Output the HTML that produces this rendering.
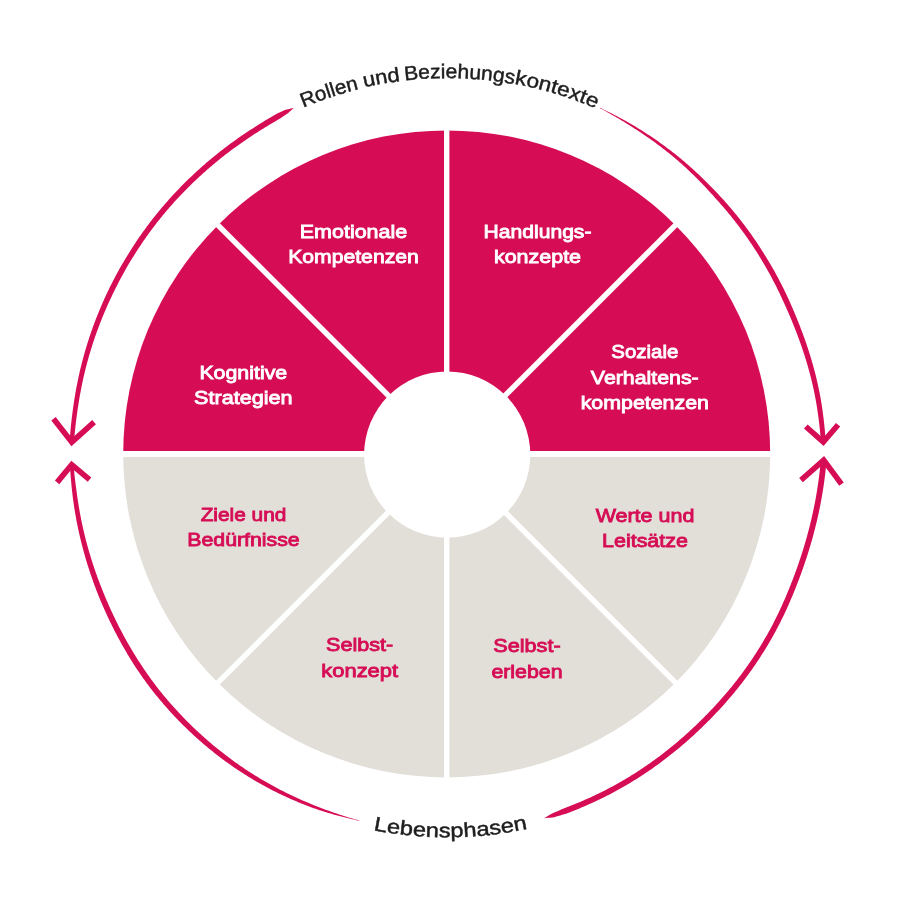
<!DOCTYPE html>
<html><head><meta charset="utf-8"><style>
html,body{margin:0;padding:0;background:#fff;width:900px;height:900px;overflow:hidden}
svg{display:block;will-change:transform}
text{font-family:"Liberation Sans",sans-serif}
.lab{font-weight:bold}
</style></head><body>
<svg width="900" height="900" viewBox="0 0 900 900">
<rect width="900" height="900" fill="#fff"/>
<defs><path id="tp0" d="M94.62,325.54 A375,375 0 0 1 799.38,325.54"/><path id="tp1" d="M94.05,325.34 A375.6,375.6 0 0 1 799.95,325.34"/><path id="tp2" d="M93.96,325.30 A375.7,375.7 0 0 1 800.04,325.30"/><path id="tp3" d="M93.68,325.20 A376.0,376.0 0 0 1 800.32,325.20"/><path id="bp" d="M114.88,645.55 A383.5,383.5 0 0 0 779.12,645.55"/></defs>
<path d="M123.19999999999999,453.9 A323.5,323.5 0 0 1 770.2,453.9 Z" fill="#D60D55"/>
<path d="M123.19999999999999,453.9 A323.5,323.5 0 0 0 770.2,453.9 Z" fill="#E2DFD9"/>
<line x1="775.20" y1="453.90" x2="118.20" y2="453.90" stroke="#fff" stroke-width="6.0"/>
<line x1="678.98" y1="221.62" x2="214.42" y2="686.18" stroke="#fff" stroke-width="5.5"/>
<line x1="446.70" y1="125.40" x2="446.70" y2="782.40" stroke="#fff" stroke-width="5.4"/>
<line x1="214.42" y1="221.62" x2="678.98" y2="686.18" stroke="#fff" stroke-width="5.5"/>
<circle cx="447.2" cy="454.6" r="83.1" fill="#fff"/>

<g>
<text x="353.5" y="237.5" fill="#fff" stroke="#fff" stroke-width="0.85" text-anchor="middle" textLength="107.40" lengthAdjust="spacingAndGlyphs" style="font-size:18.6px;font-weight:normal">Emotionale</text>
<text x="353.5" y="263.0" fill="#fff" stroke="#fff" stroke-width="0.85" text-anchor="middle" textLength="130.60" lengthAdjust="spacingAndGlyphs" style="font-size:18.6px;font-weight:normal">Kompetenzen</text>
<text x="537.5" y="237.5" fill="#fff" stroke="#fff" stroke-width="0.85" text-anchor="middle" textLength="107.91" lengthAdjust="spacingAndGlyphs" style="font-size:18.6px;font-weight:normal">Handlungs-</text>
<text x="537.5" y="263.0" fill="#fff" stroke="#fff" stroke-width="0.85" text-anchor="middle" textLength="87.09" lengthAdjust="spacingAndGlyphs" style="font-size:18.6px;font-weight:normal">konzepte</text>
<text x="243.3" y="379.2" fill="#fff" stroke="#fff" stroke-width="0.85" text-anchor="middle" textLength="87.80" lengthAdjust="spacingAndGlyphs" style="font-size:18.6px;font-weight:normal">Kognitive</text>
<text x="243.3" y="404.1" fill="#fff" stroke="#fff" stroke-width="0.85" text-anchor="middle" textLength="98.39" lengthAdjust="spacingAndGlyphs" style="font-size:18.6px;font-weight:normal">Strategien</text>
<text x="644.8" y="358.1" fill="#fff" stroke="#fff" stroke-width="0.85" text-anchor="middle" textLength="67.00" lengthAdjust="spacingAndGlyphs" style="font-size:18.6px;font-weight:normal">Soziale</text>
<text x="644.8" y="383.9" fill="#fff" stroke="#fff" stroke-width="0.85" text-anchor="middle" textLength="107.89" lengthAdjust="spacingAndGlyphs" style="font-size:18.6px;font-weight:normal">Verhaltens-</text>
<text x="644.8" y="408.8" fill="#fff" stroke="#fff" stroke-width="0.85" text-anchor="middle" textLength="128.30" lengthAdjust="spacingAndGlyphs" style="font-size:18.6px;font-weight:normal">kompetenzen</text>
<text x="243.5" y="520.5" fill="#D60D55" stroke="#D60D55" stroke-width="0.85" text-anchor="middle" textLength="85.70" lengthAdjust="spacingAndGlyphs" style="font-size:18.6px;font-weight:normal">Ziele und</text>
<text x="243.5" y="546.0" fill="#D60D55" stroke="#D60D55" stroke-width="0.85" text-anchor="middle" textLength="112.40" lengthAdjust="spacingAndGlyphs" style="font-size:18.6px;font-weight:normal">Bedürfnisse</text>
<text x="645.0" y="522.4" fill="#D60D55" stroke="#D60D55" stroke-width="0.85" text-anchor="middle" textLength="98.71" lengthAdjust="spacingAndGlyphs" style="font-size:18.6px;font-weight:normal">Werte und</text>
<text x="645.0" y="547.2" fill="#D60D55" stroke="#D60D55" stroke-width="0.85" text-anchor="middle" textLength="85.91" lengthAdjust="spacingAndGlyphs" style="font-size:18.6px;font-weight:normal">Leitsätze</text>
<text x="359.7" y="651.4" fill="#D60D55" stroke="#D60D55" stroke-width="0.85" text-anchor="middle" textLength="67.21" lengthAdjust="spacingAndGlyphs" style="font-size:18.6px;font-weight:normal">Selbst-</text>
<text x="359.7" y="677.3" fill="#D60D55" stroke="#D60D55" stroke-width="0.85" text-anchor="middle" textLength="76.81" lengthAdjust="spacingAndGlyphs" style="font-size:18.6px;font-weight:normal">konzept</text>
<text x="527.0" y="651.7" fill="#D60D55" stroke="#D60D55" stroke-width="0.85" text-anchor="middle" textLength="67.41" lengthAdjust="spacingAndGlyphs" style="font-size:18.6px;font-weight:normal">Selbst-</text>
<text x="527.0" y="677.7" fill="#D60D55" stroke="#D60D55" stroke-width="0.85" text-anchor="middle" textLength="71.20" lengthAdjust="spacingAndGlyphs" style="font-size:18.6px;font-weight:normal">erleben</text>
</g>
<path d="M69.60,442.23 L69.71,440.47 L69.83,438.70 L69.95,436.93 L70.09,435.17 L70.23,433.40 L70.38,431.64 L70.54,429.87 L70.71,428.11 L70.88,426.35 L71.06,424.59 L71.25,422.83 L71.44,421.07 L71.65,419.32 L71.85,417.56 L72.07,415.80 L72.29,414.05 L72.52,412.30 L72.75,410.54 L72.99,408.79 L73.23,407.04 L73.48,405.29 L73.74,403.54 L74.00,401.79 L74.27,400.05 L74.54,398.30 L74.82,396.56 L75.11,394.81 L75.40,393.07 L75.71,391.33 L76.02,389.59 L76.34,387.86 L76.67,386.12 L77.01,384.39 L77.35,382.65 L77.70,380.92 L78.06,379.19 L78.43,377.46 L78.81,375.74 L79.19,374.01 L79.58,372.29 L79.98,370.57 L80.39,368.85 L80.81,367.14 L81.23,365.42 L81.66,363.71 L82.10,362.00 L82.54,360.29 L83.00,358.58 L83.46,356.88 L83.93,355.18 L84.41,353.48 L84.89,351.78 L85.38,350.08 L85.88,348.39 L86.39,346.70 L86.91,345.01 L87.43,343.32 L87.96,341.64 L88.50,339.96 L89.05,338.28 L89.60,336.60 L90.16,334.92 L90.73,333.25 L91.30,331.58 L91.89,329.92 L92.48,328.25 L93.08,326.59 L93.68,324.93 L94.30,323.28 L94.92,321.63 L95.55,319.98 L96.18,318.33 L96.83,316.68 L97.48,315.04 L98.13,313.40 L98.80,311.77 L99.47,310.13 L100.15,308.50 L100.84,306.88 L101.53,305.25 L102.23,303.63 L102.94,302.02 L103.66,300.40 L104.38,298.79 L105.11,297.18 L105.85,295.58 L106.60,293.98 L107.36,292.38 L108.12,290.79 L108.89,289.20 L109.67,287.62 L110.45,286.03 L111.24,284.45 L112.04,282.88 L112.84,281.31 L113.65,279.74 L114.47,278.17 L115.30,276.61 L116.13,275.05 L116.97,273.50 L117.81,271.94 L118.66,270.40 L119.52,268.85 L120.39,267.31 L121.26,265.78 L122.14,264.24 L123.03,262.72 L123.92,261.19 L124.82,259.67 L125.73,258.15 L126.64,256.64 L127.56,255.13 L128.49,253.63 L129.42,252.13 L130.36,250.63 L131.31,249.14 L132.26,247.65 L133.22,246.16 L134.19,244.68 L135.17,243.21 L136.15,241.74 L137.13,240.27 L138.13,238.81 L139.13,237.35 L140.14,235.90 L141.15,234.45 L142.17,233.00 L143.20,231.56 L144.23,230.13 L145.28,228.70 L146.32,227.27 L147.38,225.85 L148.44,224.44 L149.51,223.03 L150.58,221.62 L151.66,220.22 L152.75,218.82 L153.84,217.43 L154.94,216.04 L156.05,214.66 L157.16,213.28 L158.28,211.91 L159.41,210.55 L160.54,209.18 L161.68,207.83 L162.82,206.48 L163.97,205.13 L165.13,203.79 L166.30,202.46 L167.47,201.13 L168.64,199.81 L169.83,198.49 L171.02,197.17 L172.21,195.87 L173.41,194.56 L174.62,193.27 L175.84,191.98 L177.05,190.69 L178.28,189.41 L179.51,188.13 L180.75,186.86 L181.99,185.60 L183.23,184.34 L184.49,183.08 L185.75,181.83 L187.01,180.59 L188.28,179.35 L189.56,178.12 L190.84,176.89 L192.12,175.67 L193.42,174.45 L194.71,173.24 L196.02,172.04 L197.32,170.84 L198.64,169.65 L199.96,168.46 L201.28,167.28 L202.61,166.10 L203.95,164.93 L205.29,163.76 L206.63,162.60 L207.98,161.45 L209.34,160.30 L210.70,159.16 L212.06,158.03 L213.44,156.89 L214.81,155.77 L216.19,154.65 L217.58,153.54 L218.97,152.43 L220.37,151.33 L221.77,150.24 L223.18,149.15 L224.59,148.07 L226.00,146.99 L227.43,145.92 L228.85,144.86 L230.28,143.80 L231.72,142.75 L233.16,141.70 L234.60,140.66 L236.05,139.63 L237.51,138.60 L238.97,137.58 L240.43,136.56 L241.90,135.55 L243.37,134.55 L244.85,133.55 L246.33,132.56 L247.82,131.57 L249.30,130.59 L250.80,129.61 L252.29,128.64 L253.79,127.67 L255.29,126.71 L256.80,125.75 L258.31,124.80 L259.83,123.85 L261.34,122.91 L262.87,121.97 L264.39,121.04 L265.92,120.12 L267.46,119.20 L268.99,118.28 L270.54,117.38 L272.08,116.47 L273.63,115.58 L275.19,114.69 L276.76,113.83 L278.38,113.07 L280.00,112.32 L281.63,111.58 L283.26,110.85 L284.90,110.12 L286.62,109.58 L288.39,109.17 L290.17,108.77 L291.95,108.37 L293.73,107.99 L293.73,107.99 L292.33,109.23 L290.94,110.47 L289.56,111.72 L288.19,112.97 L286.77,114.11 L285.27,115.07 L283.77,116.04 L282.28,117.01 L280.80,117.99 L279.32,118.98 L277.79,119.87 L276.26,120.75 L274.74,121.63 L273.22,122.52 L271.70,123.41 L270.18,124.31 L268.67,125.21 L267.16,126.13 L265.66,127.04 L264.16,127.96 L262.67,128.89 L261.18,129.82 L259.69,130.76 L258.20,131.70 L256.72,132.65 L255.25,133.61 L253.77,134.56 L252.30,135.53 L250.84,136.49 L249.38,137.47 L247.92,138.44 L246.46,139.42 L245.01,140.41 L243.57,141.40 L242.12,142.40 L240.69,143.41 L239.25,144.42 L237.82,145.44 L236.40,146.46 L234.98,147.49 L233.57,148.53 L232.16,149.57 L230.75,150.61 L229.35,151.67 L227.96,152.73 L226.57,153.79 L225.18,154.86 L223.80,155.94 L222.43,157.03 L221.06,158.11 L219.69,159.21 L218.33,160.31 L216.97,161.42 L215.62,162.53 L214.28,163.65 L212.93,164.77 L211.60,165.90 L210.27,167.04 L208.94,168.18 L207.62,169.32 L206.31,170.48 L205.00,171.63 L203.69,172.80 L202.39,173.97 L201.10,175.14 L199.81,176.32 L198.53,177.51 L197.25,178.70 L195.97,179.90 L194.71,181.10 L193.44,182.31 L192.19,183.52 L190.94,184.74 L189.69,185.96 L188.45,187.19 L187.22,188.43 L185.99,189.67 L184.76,190.91 L183.54,192.16 L182.33,193.42 L181.12,194.68 L179.92,195.95 L178.73,197.22 L177.54,198.50 L176.35,199.78 L175.18,201.06 L174.00,202.36 L172.84,203.65 L171.68,204.96 L170.52,206.27 L169.37,207.58 L168.23,208.90 L167.10,210.22 L165.97,211.55 L164.85,212.89 L163.73,214.23 L162.62,215.57 L161.52,216.92 L160.42,218.28 L159.33,219.64 L158.25,221.00 L157.17,222.37 L156.10,223.75 L155.03,225.13 L153.97,226.51 L152.92,227.90 L151.87,229.30 L150.84,230.70 L149.80,232.10 L148.78,233.51 L147.76,234.92 L146.74,236.34 L145.74,237.76 L144.74,239.19 L143.74,240.62 L142.76,242.05 L141.78,243.49 L140.80,244.94 L139.84,246.38 L138.88,247.84 L137.92,249.29 L136.97,250.76 L136.03,252.22 L135.10,253.69 L134.17,255.16 L133.25,256.64 L132.34,258.12 L131.43,259.61 L130.53,261.10 L129.64,262.59 L128.75,264.09 L127.87,265.59 L126.99,267.10 L126.13,268.60 L125.27,270.12 L124.41,271.63 L123.56,273.15 L122.72,274.68 L121.89,276.21 L121.06,277.74 L120.24,279.27 L119.43,280.81 L118.62,282.35 L117.82,283.90 L117.03,285.44 L116.24,287.00 L115.46,288.55 L114.69,290.11 L113.92,291.67 L113.16,293.24 L112.41,294.80 L111.66,296.38 L110.92,297.95 L110.19,299.53 L109.46,301.11 L108.73,302.69 L108.01,304.27 L107.30,305.86 L106.60,307.45 L105.90,309.05 L105.22,310.64 L104.53,312.25 L103.86,313.85 L103.19,315.46 L102.53,317.07 L101.88,318.68 L101.23,320.30 L100.59,321.91 L99.96,323.54 L99.34,325.16 L98.72,326.79 L98.11,328.42 L97.51,330.05 L96.91,331.69 L96.33,333.33 L95.75,334.97 L95.17,336.61 L94.61,338.26 L94.05,339.91 L93.50,341.56 L92.96,343.21 L92.42,344.87 L91.89,346.53 L91.37,348.19 L90.86,349.86 L90.35,351.52 L89.85,353.19 L89.36,354.86 L88.88,356.54 L88.40,358.21 L87.93,359.89 L87.47,361.57 L87.02,363.25 L86.58,364.94 L86.14,366.62 L85.71,368.31 L85.29,370.00 L84.87,371.70 L84.46,373.39 L84.07,375.09 L83.67,376.79 L83.29,378.49 L82.91,380.19 L82.55,381.89 L82.18,383.60 L81.83,385.31 L81.49,387.01 L81.15,388.73 L80.82,390.44 L80.50,392.15 L80.18,393.87 L79.88,395.58 L79.58,397.30 L79.29,399.02 L79.01,400.75 L78.73,402.47 L78.46,404.19 L78.19,405.92 L77.92,407.64 L77.66,409.37 L77.41,411.10 L77.17,412.82 L76.92,414.55 L76.69,416.28 L76.46,418.02 L76.24,419.75 L76.02,421.48 L75.81,423.22 L75.61,424.96 L75.41,426.69 L75.23,428.43 L75.04,430.17 L74.87,431.91 L74.70,433.66 L74.55,435.40 L74.40,437.14 L74.26,438.89 L74.12,440.63 L74.00,442.38 Z" fill="#D60D55"/>
<path d="M600.07,107.87 L601.68,108.62 L603.29,109.39 L604.89,110.16 L606.49,110.93 L608.09,111.72 L609.68,112.51 L611.27,113.30 L612.86,114.11 L614.44,114.92 L616.02,115.74 L617.59,116.56 L619.17,117.39 L620.73,118.23 L622.30,119.07 L623.86,119.92 L625.42,120.78 L626.97,121.64 L628.52,122.51 L630.07,123.38 L631.60,124.28 L633.13,125.19 L634.65,126.11 L636.17,127.03 L637.68,127.96 L639.19,128.89 L640.70,129.83 L642.20,130.78 L643.70,131.73 L645.19,132.69 L646.68,133.66 L648.17,134.63 L649.65,135.61 L651.12,136.59 L652.59,137.59 L654.06,138.59 L655.52,139.59 L656.98,140.60 L658.43,141.62 L659.88,142.65 L661.32,143.68 L662.76,144.72 L664.19,145.76 L665.62,146.82 L667.04,147.88 L668.45,148.94 L669.87,150.01 L671.27,151.09 L672.67,152.18 L674.07,153.27 L675.46,154.37 L676.84,155.48 L678.22,156.59 L679.59,157.71 L680.96,158.84 L682.32,159.97 L683.67,161.11 L685.02,162.26 L686.36,163.42 L687.70,164.58 L689.03,165.75 L690.35,166.92 L691.67,168.10 L692.98,169.29 L694.29,170.48 L695.59,171.68 L696.89,172.88 L698.18,174.09 L699.47,175.31 L700.75,176.53 L702.02,177.75 L703.29,178.98 L704.55,180.22 L705.81,181.46 L707.07,182.70 L708.32,183.95 L709.56,185.21 L710.80,186.46 L712.04,187.73 L713.27,188.99 L714.50,190.26 L715.72,191.54 L716.94,192.82 L718.15,194.10 L719.36,195.38 L720.57,196.67 L721.77,197.97 L722.96,199.27 L724.14,200.58 L725.32,201.90 L726.49,203.22 L727.65,204.55 L728.81,205.89 L729.96,207.23 L731.10,208.57 L732.24,209.92 L733.37,211.27 L734.49,212.63 L735.61,214.00 L736.72,215.37 L737.83,216.74 L738.93,218.12 L740.02,219.51 L741.11,220.90 L742.19,222.29 L743.26,223.69 L744.33,225.10 L745.39,226.51 L746.45,227.92 L747.50,229.34 L748.54,230.76 L749.58,232.19 L750.60,233.62 L751.63,235.06 L752.64,236.50 L753.65,237.94 L754.66,239.40 L755.65,240.85 L756.64,242.31 L757.63,243.77 L758.60,245.24 L759.57,246.71 L760.54,248.19 L761.49,249.67 L762.44,251.16 L763.39,252.64 L764.32,254.14 L765.25,255.64 L766.18,257.14 L767.09,258.64 L768.00,260.15 L768.91,261.67 L769.80,263.18 L770.69,264.70 L771.58,266.23 L772.45,267.76 L773.32,269.29 L774.19,270.83 L775.04,272.37 L775.89,273.91 L776.73,275.46 L777.57,277.01 L778.40,278.57 L779.22,280.13 L780.03,281.69 L780.84,283.26 L781.64,284.83 L782.44,286.40 L783.23,287.98 L784.01,289.56 L784.78,291.14 L785.55,292.73 L786.31,294.32 L787.06,295.91 L787.80,297.51 L788.52,299.12 L789.25,300.73 L789.97,302.33 L790.68,303.95 L791.39,305.56 L792.10,307.18 L792.80,308.79 L793.49,310.41 L794.18,312.04 L794.86,313.66 L795.54,315.29 L796.21,316.92 L796.88,318.55 L797.54,320.18 L798.20,321.82 L798.85,323.46 L799.50,325.10 L800.14,326.75 L800.77,328.39 L801.40,330.04 L802.02,331.70 L802.63,333.35 L803.24,335.01 L803.84,336.67 L804.44,338.33 L805.03,340.00 L805.61,341.66 L806.19,343.33 L806.76,345.01 L807.32,346.68 L807.87,348.36 L808.42,350.04 L808.96,351.72 L809.50,353.41 L810.02,355.10 L810.54,356.79 L811.05,358.48 L811.56,360.18 L812.05,361.88 L812.54,363.58 L813.02,365.28 L813.50,366.99 L813.96,368.70 L814.42,370.41 L814.87,372.12 L815.31,373.84 L815.74,375.56 L816.17,377.28 L816.58,379.00 L816.99,380.73 L817.39,382.46 L817.77,384.19 L818.15,385.92 L818.53,387.65 L818.89,389.39 L819.24,391.13 L819.58,392.87 L819.92,394.61 L820.24,396.36 L820.56,398.10 L820.86,399.85 L821.16,401.60 L821.45,403.35 L821.73,405.11 L822.00,406.86 L822.26,408.62 L822.52,410.38 L822.76,412.14 L823.00,413.90 L823.23,415.66 L823.45,417.42 L823.67,419.19 L823.87,420.95 L824.07,422.72 L824.26,424.49 L824.44,426.26 L824.62,428.03 L824.78,429.80 L824.94,431.57 L825.09,433.34 L825.22,435.11 L825.36,436.89 L825.48,438.66 L825.59,440.44 L825.70,442.22 L820.90,442.38 L820.79,440.62 L820.66,438.87 L820.52,437.12 L820.38,435.37 L820.23,433.62 L820.07,431.87 L819.90,430.12 L819.73,428.37 L819.55,426.63 L819.35,424.88 L819.15,423.14 L818.95,421.39 L818.73,419.65 L818.51,417.91 L818.27,416.17 L818.03,414.44 L817.78,412.70 L817.53,410.97 L817.26,409.23 L816.99,407.50 L816.71,405.77 L816.42,404.04 L816.13,402.32 L815.82,400.59 L815.51,398.87 L815.19,397.15 L814.86,395.43 L814.52,393.71 L814.17,391.99 L813.81,390.28 L813.44,388.57 L813.07,386.86 L812.68,385.15 L812.29,383.45 L811.88,381.75 L811.47,380.05 L811.05,378.35 L810.62,376.66 L810.19,374.96 L809.74,373.27 L809.29,371.59 L808.83,369.90 L808.36,368.22 L807.88,366.54 L807.40,364.86 L806.91,363.19 L806.41,361.51 L805.90,359.84 L805.38,358.18 L804.86,356.51 L804.33,354.85 L803.80,353.19 L803.25,351.54 L802.70,349.88 L802.15,348.23 L801.58,346.58 L801.01,344.94 L800.43,343.29 L799.85,341.65 L799.26,340.02 L798.66,338.38 L798.06,336.75 L797.45,335.12 L796.83,333.49 L796.21,331.87 L795.58,330.24 L794.95,328.63 L794.31,327.01 L793.66,325.39 L793.01,323.78 L792.36,322.17 L791.70,320.57 L791.03,318.96 L790.36,317.36 L789.68,315.76 L789.00,314.16 L788.31,312.57 L787.61,310.98 L786.92,309.39 L786.21,307.80 L785.51,306.21 L784.79,304.63 L784.08,303.05 L783.35,301.47 L782.63,299.90 L781.89,298.32 L781.16,296.75 L780.43,295.18 L779.68,293.61 L778.93,292.04 L778.17,290.48 L777.41,288.92 L776.64,287.37 L775.86,285.82 L775.07,284.27 L774.28,282.72 L773.48,281.18 L772.67,279.64 L771.86,278.11 L771.04,276.58 L770.22,275.05 L769.38,273.52 L768.54,272.00 L767.70,270.49 L766.84,268.97 L765.98,267.47 L765.12,265.96 L764.24,264.46 L763.36,262.96 L762.48,261.47 L761.59,259.98 L760.69,258.49 L759.78,257.01 L758.87,255.53 L757.95,254.05 L757.02,252.58 L756.09,251.12 L755.15,249.65 L754.20,248.20 L753.25,246.74 L752.29,245.29 L751.32,243.85 L750.35,242.40 L749.37,240.97 L748.38,239.53 L747.39,238.11 L746.39,236.68 L745.39,235.26 L744.38,233.85 L743.36,232.44 L742.34,231.03 L741.30,229.63 L740.27,228.23 L739.22,226.84 L738.17,225.45 L737.12,224.07 L736.05,222.69 L734.99,221.31 L733.91,219.95 L732.83,218.58 L731.74,217.22 L730.65,215.87 L729.55,214.52 L728.44,213.17 L727.33,211.83 L726.21,210.50 L725.08,209.17 L723.95,207.84 L722.81,206.52 L721.67,205.21 L720.52,203.90 L719.36,202.60 L718.21,201.29 L717.05,199.98 L715.90,198.68 L714.73,197.38 L713.57,196.08 L712.40,194.78 L711.22,193.49 L710.05,192.20 L708.86,190.92 L707.67,189.64 L706.48,188.36 L705.28,187.09 L704.08,185.82 L702.87,184.56 L701.66,183.30 L700.44,182.04 L699.22,180.79 L697.99,179.54 L696.75,178.30 L695.51,177.07 L694.26,175.84 L693.01,174.61 L691.76,173.39 L690.49,172.17 L689.22,170.96 L687.95,169.76 L686.67,168.56 L685.38,167.37 L684.08,166.18 L682.78,165.00 L681.48,163.83 L680.17,162.66 L678.85,161.50 L677.52,160.35 L676.19,159.20 L674.85,158.06 L673.51,156.93 L672.15,155.81 L670.79,154.69 L669.43,153.58 L668.06,152.48 L666.68,151.38 L665.30,150.29 L663.91,149.21 L662.52,148.13 L661.12,147.06 L659.72,146.00 L658.31,144.94 L656.89,143.89 L655.48,142.85 L654.05,141.81 L652.62,140.78 L651.19,139.75 L649.75,138.73 L648.30,137.72 L646.85,136.71 L645.40,135.71 L643.94,134.72 L642.48,133.73 L641.01,132.75 L639.54,131.77 L638.06,130.81 L636.58,129.84 L635.09,128.89 L633.60,127.93 L632.11,126.99 L630.61,126.05 L629.11,125.11 L627.61,124.16 L626.11,123.22 L624.61,122.28 L623.10,121.35 L621.59,120.43 L620.07,119.51 L618.55,118.60 L617.02,117.69 L615.49,116.79 L613.95,115.90 L612.41,115.01 L610.87,114.13 L609.32,113.25 L607.77,112.39 L606.21,111.52 L604.65,110.67 L603.09,109.82 L601.52,108.98 L599.94,108.14 Z" fill="#D60D55"/>
<path d="M359.54,820.83 L357.51,820.41 L355.49,819.97 L353.47,819.52 L351.46,819.06 L349.44,818.59 L347.43,818.11 L345.42,817.62 L343.41,817.11 L341.41,816.60 L339.41,816.07 L337.41,815.53 L335.41,814.98 L333.42,814.42 L331.43,813.85 L329.44,813.27 L327.46,812.67 L325.47,812.07 L323.50,811.45 L321.52,810.82 L319.55,810.18 L317.58,809.53 L315.62,808.85 L313.67,808.15 L311.72,807.44 L309.78,806.72 L307.84,805.99 L305.90,805.24 L303.97,804.49 L302.04,803.73 L300.12,802.95 L298.20,802.16 L296.28,801.37 L294.37,800.56 L292.47,799.74 L290.56,798.91 L288.67,798.07 L286.78,797.22 L284.89,796.35 L283.01,795.48 L281.13,794.59 L279.26,793.70 L277.39,792.79 L275.53,791.87 L273.67,790.94 L271.82,790.00 L269.98,789.05 L268.14,788.09 L266.31,787.10 L264.49,786.11 L262.67,785.10 L260.86,784.09 L259.06,783.06 L257.26,782.02 L255.47,780.98 L253.68,779.92 L251.90,778.85 L250.13,777.77 L248.36,776.69 L246.60,775.59 L244.84,774.48 L243.09,773.36 L241.35,772.24 L239.61,771.10 L237.88,769.95 L236.16,768.80 L234.44,767.63 L232.73,766.45 L231.03,765.27 L229.33,764.07 L227.64,762.87 L225.96,761.65 L224.29,760.43 L222.62,759.20 L220.95,757.96 L219.30,756.70 L217.65,755.44 L216.01,754.17 L214.38,752.89 L212.75,751.61 L211.13,750.31 L209.52,749.00 L207.92,747.69 L206.32,746.36 L204.73,745.03 L203.15,743.69 L201.58,742.33 L200.02,740.97 L198.46,739.59 L196.92,738.21 L195.38,736.82 L193.85,735.42 L192.33,734.01 L190.81,732.60 L189.31,731.17 L187.81,729.74 L186.32,728.30 L184.83,726.85 L183.36,725.39 L181.89,723.93 L180.43,722.46 L178.98,720.98 L177.54,719.49 L176.11,717.99 L174.68,716.49 L173.26,714.98 L171.85,713.46 L170.45,711.93 L169.06,710.40 L167.68,708.86 L166.30,707.31 L164.93,705.75 L163.57,704.19 L162.22,702.62 L160.88,701.04 L159.55,699.45 L158.23,697.86 L156.92,696.26 L155.62,694.65 L154.32,693.03 L153.04,691.41 L151.77,689.77 L150.50,688.13 L149.25,686.49 L148.01,684.83 L146.77,683.17 L145.55,681.50 L144.34,679.83 L143.13,678.15 L141.94,676.46 L140.75,674.76 L139.58,673.06 L138.41,671.35 L137.26,669.63 L136.12,667.91 L134.99,666.18 L133.87,664.44 L132.76,662.70 L131.65,660.95 L130.56,659.19 L129.48,657.43 L128.41,655.67 L127.34,653.89 L126.29,652.12 L125.25,650.33 L124.21,648.55 L123.19,646.75 L122.17,644.96 L121.16,643.15 L120.17,641.35 L119.18,639.53 L118.20,637.72 L117.23,635.90 L116.27,634.07 L115.32,632.24 L114.37,630.40 L113.44,628.56 L112.52,626.72 L111.60,624.87 L110.69,623.02 L109.80,621.16 L108.91,619.30 L108.03,617.43 L107.16,615.57 L106.30,613.69 L105.44,611.82 L104.60,609.94 L103.76,608.05 L102.93,606.16 L102.11,604.27 L101.30,602.38 L100.50,600.48 L99.70,598.58 L98.92,596.67 L98.15,594.76 L97.39,592.84 L96.64,590.92 L95.91,588.99 L95.18,587.07 L94.46,585.13 L93.75,583.20 L93.05,581.26 L92.36,579.32 L91.68,577.37 L91.01,575.42 L90.35,573.47 L89.70,571.51 L89.06,569.56 L88.43,567.59 L87.81,565.63 L87.19,563.66 L86.59,561.69 L86.00,559.71 L85.42,557.73 L84.85,555.75 L84.29,553.77 L83.74,551.78 L83.19,549.79 L82.66,547.80 L82.14,545.80 L81.63,543.81 L81.13,541.81 L80.64,539.80 L80.16,537.80 L79.69,535.79 L79.23,533.78 L78.79,531.76 L78.35,529.75 L77.92,527.73 L77.50,525.71 L77.10,523.69 L76.70,521.66 L76.32,519.63 L75.94,517.60 L75.58,515.57 L75.23,513.54 L74.88,511.50 L74.55,509.46 L74.23,507.43 L73.92,505.38 L73.62,503.34 L73.33,501.30 L73.06,499.25 L72.79,497.20 L72.54,495.15 L72.30,493.10 L72.08,491.05 L71.86,488.99 L71.65,486.94 L71.45,484.88 L71.26,482.82 L71.07,480.77 L70.89,478.71 L70.71,476.65 L70.55,474.59 L70.40,472.52 L70.26,470.46 L70.13,468.40 L70.01,466.33 L69.90,464.26 L73.50,464.17 L73.67,466.22 L73.85,468.26 L74.04,470.30 L74.24,472.34 L74.46,474.38 L74.68,476.42 L74.91,478.45 L75.15,480.48 L75.40,482.51 L75.66,484.54 L75.92,486.57 L76.19,488.60 L76.47,490.62 L76.75,492.65 L77.02,494.67 L77.30,496.69 L77.58,498.71 L77.88,500.73 L78.19,502.75 L78.51,504.76 L78.84,506.77 L79.18,508.78 L79.53,510.79 L79.89,512.80 L80.26,514.80 L80.65,516.81 L81.04,518.81 L81.44,520.80 L81.86,522.80 L82.28,524.79 L82.72,526.78 L83.16,528.77 L83.62,530.75 L84.08,532.73 L84.56,534.71 L85.05,536.69 L85.54,538.66 L86.05,540.63 L86.57,542.60 L87.09,544.57 L87.63,546.53 L88.18,548.49 L88.73,550.45 L89.30,552.40 L89.88,554.35 L90.46,556.30 L91.06,558.24 L91.66,560.18 L92.28,562.12 L92.91,564.05 L93.54,565.98 L94.19,567.91 L94.84,569.83 L95.50,571.75 L96.18,573.67 L96.86,575.58 L97.55,577.49 L98.25,579.40 L98.97,581.30 L99.69,583.20 L100.42,585.09 L101.16,586.98 L101.91,588.87 L102.66,590.76 L103.43,592.64 L104.20,594.51 L104.98,596.39 L105.76,598.26 L106.56,600.13 L107.36,601.99 L108.17,603.85 L108.99,605.71 L109.82,607.56 L110.66,609.41 L111.50,611.26 L112.36,613.10 L113.22,614.94 L114.09,616.78 L114.97,618.61 L115.85,620.43 L116.75,622.25 L117.66,624.07 L118.57,625.89 L119.49,627.70 L120.42,629.50 L121.37,631.30 L122.31,633.10 L123.27,634.89 L124.24,636.68 L125.22,638.46 L126.20,640.24 L127.20,642.01 L128.20,643.78 L129.22,645.54 L130.24,647.30 L131.27,649.05 L132.31,650.80 L133.36,652.54 L134.42,654.27 L135.49,656.00 L136.57,657.73 L137.65,659.45 L138.75,661.16 L139.86,662.87 L140.97,664.57 L142.10,666.27 L143.23,667.96 L144.37,669.65 L145.52,671.33 L146.68,673.00 L147.84,674.67 L149.02,676.34 L150.21,677.99 L151.40,679.64 L152.61,681.28 L153.83,682.92 L155.05,684.55 L156.29,686.17 L157.53,687.78 L158.79,689.39 L160.05,690.99 L161.32,692.58 L162.61,694.17 L163.90,695.74 L165.21,697.31 L166.52,698.87 L167.84,700.43 L169.17,701.97 L170.51,703.51 L171.86,705.05 L173.21,706.57 L174.58,708.09 L175.95,709.60 L177.33,711.11 L178.72,712.60 L180.11,714.09 L181.52,715.57 L182.93,717.05 L184.35,718.51 L185.78,719.97 L187.22,721.42 L188.67,722.86 L190.12,724.30 L191.58,725.73 L193.05,727.15 L194.53,728.56 L196.01,729.96 L197.51,731.36 L199.01,732.74 L200.52,734.12 L202.03,735.49 L203.56,736.86 L205.09,738.21 L206.63,739.56 L208.17,740.90 L209.72,742.23 L211.28,743.56 L212.84,744.88 L214.41,746.19 L215.99,747.49 L217.58,748.79 L219.17,750.07 L220.77,751.35 L222.38,752.61 L223.99,753.87 L225.62,755.12 L227.25,756.36 L228.88,757.59 L230.53,758.81 L232.18,760.02 L233.83,761.23 L235.50,762.42 L237.17,763.61 L238.85,764.78 L240.53,765.95 L242.23,767.10 L243.93,768.25 L245.63,769.39 L247.34,770.52 L249.06,771.63 L250.79,772.74 L252.52,773.84 L254.26,774.93 L256.00,776.01 L257.75,777.08 L259.51,778.14 L261.27,779.19 L263.04,780.23 L264.81,781.26 L266.59,782.28 L268.38,783.29 L270.17,784.28 L271.97,785.28 L273.77,786.27 L275.57,787.25 L277.38,788.22 L279.19,789.18 L281.02,790.14 L282.84,791.07 L284.67,792.00 L286.51,792.92 L288.35,793.83 L290.20,794.73 L292.06,795.61 L293.92,796.49 L295.78,797.36 L297.65,798.21 L299.53,799.05 L301.41,799.89 L303.29,800.71 L305.18,801.52 L307.07,802.32 L308.97,803.11 L310.88,803.89 L312.78,804.66 L314.69,805.42 L316.61,806.17 L318.53,806.92 L320.44,807.67 L322.36,808.42 L324.29,809.15 L326.22,809.88 L328.15,810.59 L330.08,811.29 L332.03,811.99 L333.97,812.67 L335.92,813.34 L337.87,814.00 L339.83,814.65 L341.79,815.29 L343.76,815.91 L345.72,816.53 L347.70,817.14 L349.67,817.73 L351.65,818.32 L353.63,818.89 L355.62,819.45 L357.61,820.00 L359.61,820.54 Z" fill="#D60D55"/>
<path d="M826.60,459.84 L826.42,461.90 L826.24,463.96 L826.04,466.01 L825.84,468.06 L825.62,470.11 L825.40,472.16 L825.16,474.21 L824.91,476.25 L824.65,478.30 L824.39,480.34 L824.11,482.37 L823.82,484.41 L823.52,486.44 L823.21,488.48 L822.89,490.51 L822.56,492.53 L822.23,494.56 L821.88,496.58 L821.52,498.60 L821.15,500.61 L820.77,502.63 L820.38,504.64 L819.99,506.65 L819.58,508.66 L819.17,510.66 L818.74,512.66 L818.31,514.66 L817.86,516.66 L817.41,518.65 L816.95,520.64 L816.48,522.63 L815.99,524.61 L815.51,526.59 L815.01,528.57 L814.50,530.54 L813.98,532.52 L813.46,534.49 L812.93,536.45 L812.38,538.42 L811.83,540.38 L811.27,542.34 L810.71,544.29 L810.13,546.24 L809.55,548.19 L808.95,550.13 L808.35,552.08 L807.74,554.02 L807.13,555.95 L806.50,557.88 L805.87,559.81 L805.23,561.74 L804.58,563.66 L803.92,565.58 L803.26,567.50 L802.58,569.42 L801.90,571.33 L801.22,573.23 L800.52,575.14 L799.82,577.04 L799.11,578.94 L798.39,580.83 L797.66,582.73 L796.93,584.61 L796.19,586.50 L795.44,588.38 L794.69,590.26 L793.92,592.14 L793.15,594.01 L792.38,595.88 L791.59,597.75 L790.80,599.61 L790.01,601.48 L789.20,603.33 L788.38,605.19 L787.56,607.03 L786.72,608.88 L785.88,610.72 L785.02,612.55 L784.15,614.38 L783.28,616.21 L782.39,618.03 L781.50,619.84 L780.59,621.65 L779.68,623.46 L778.75,625.26 L777.82,627.06 L776.88,628.85 L775.92,630.63 L774.96,632.41 L773.99,634.19 L773.01,635.96 L772.02,637.72 L771.02,639.48 L770.01,641.24 L768.99,642.99 L767.96,644.73 L766.92,646.47 L765.87,648.20 L764.82,649.92 L763.75,651.64 L762.68,653.36 L761.59,655.07 L760.50,656.77 L759.40,658.47 L758.29,660.16 L757.16,661.84 L756.04,663.52 L754.90,665.20 L753.75,666.86 L752.59,668.52 L751.43,670.18 L750.25,671.83 L749.07,673.47 L747.88,675.10 L746.68,676.73 L745.47,678.36 L744.25,679.97 L743.03,681.58 L741.79,683.18 L740.55,684.78 L739.30,686.37 L738.04,687.95 L736.77,689.53 L735.49,691.10 L734.20,692.66 L732.91,694.22 L731.61,695.77 L730.30,697.31 L728.98,698.84 L727.65,700.37 L726.32,701.89 L724.97,703.40 L723.62,704.91 L722.27,706.41 L720.90,707.91 L719.53,709.40 L718.16,710.88 L716.77,712.36 L715.38,713.83 L713.99,715.29 L712.59,716.75 L711.18,718.20 L709.76,719.65 L708.34,721.09 L706.91,722.52 L705.47,723.95 L704.03,725.37 L702.58,726.78 L701.12,728.19 L699.66,729.59 L698.19,730.99 L696.71,732.37 L695.23,733.75 L693.74,735.13 L692.24,736.49 L690.74,737.85 L689.23,739.20 L687.71,740.55 L686.19,741.89 L684.66,743.22 L683.12,744.54 L681.58,745.86 L680.03,747.16 L678.47,748.46 L676.91,749.76 L675.34,751.04 L673.76,752.32 L672.18,753.59 L670.59,754.86 L668.99,756.11 L667.39,757.36 L665.78,758.60 L664.16,759.83 L662.54,761.05 L660.91,762.27 L659.27,763.47 L657.63,764.67 L655.98,765.86 L654.33,767.04 L652.67,768.22 L651.00,769.38 L649.32,770.54 L647.64,771.69 L645.96,772.83 L644.26,773.96 L642.56,775.08 L640.86,776.19 L639.15,777.29 L637.43,778.39 L635.70,779.48 L633.97,780.55 L632.24,781.62 L630.49,782.68 L628.75,783.73 L626.99,784.76 L625.23,785.79 L623.46,786.81 L621.69,787.83 L619.91,788.83 L618.13,789.82 L616.34,790.80 L614.54,791.77 L612.74,792.73 L610.94,793.68 L609.12,794.63 L607.30,795.56 L605.48,796.48 L603.65,797.39 L601.82,798.29 L599.98,799.18 L598.13,800.06 L596.28,800.94 L594.43,801.80 L592.57,802.65 L590.71,803.50 L588.84,804.34 L586.97,805.17 L585.09,805.98 L583.21,806.79 L581.33,807.59 L579.44,808.39 L577.54,809.17 L575.65,809.94 L573.74,810.70 L571.84,811.46 L569.93,812.20 L568.01,812.93 L566.09,813.64 L564.13,814.25 L562.17,814.85 L560.21,815.44 L558.24,816.02 L556.27,816.59 L554.30,817.15 L552.26,817.45 L550.18,817.66 L548.12,817.85 L546.05,818.04 L543.98,818.21 L543.98,818.21 L545.81,817.16 L547.63,816.11 L549.44,815.04 L551.24,813.97 L553.06,812.97 L554.94,812.21 L556.82,811.44 L558.70,810.66 L560.57,809.87 L562.43,809.08 L564.29,808.27 L566.18,807.53 L568.06,806.81 L569.95,806.08 L571.82,805.33 L573.70,804.58 L575.57,803.82 L577.43,803.05 L579.29,802.27 L581.15,801.48 L583.00,800.68 L584.85,799.87 L586.69,799.05 L588.53,798.23 L590.36,797.39 L592.19,796.55 L594.02,795.70 L595.84,794.84 L597.65,793.97 L599.46,793.09 L601.27,792.20 L603.07,791.30 L604.87,790.39 L606.66,789.48 L608.44,788.55 L610.22,787.61 L611.99,786.66 L613.76,785.70 L615.52,784.73 L617.28,783.76 L619.03,782.77 L620.78,781.77 L622.51,780.77 L624.25,779.75 L625.98,778.73 L627.70,777.69 L629.41,776.65 L631.12,775.60 L632.82,774.54 L634.52,773.47 L636.21,772.39 L637.90,771.30 L639.58,770.20 L641.25,769.10 L642.92,767.98 L644.58,766.86 L646.23,765.73 L647.88,764.59 L649.52,763.44 L651.16,762.28 L652.79,761.12 L654.41,759.94 L656.02,758.76 L657.63,757.57 L659.24,756.38 L660.83,755.17 L662.43,753.96 L664.01,752.74 L665.59,751.51 L667.16,750.27 L668.72,749.02 L670.28,747.77 L671.83,746.51 L673.38,745.25 L674.92,743.97 L676.45,742.69 L677.98,741.40 L679.49,740.10 L681.01,738.80 L682.51,737.49 L684.01,736.17 L685.51,734.84 L686.99,733.51 L688.47,732.17 L689.94,730.83 L691.41,729.47 L692.87,728.11 L694.32,726.75 L695.77,725.38 L697.21,724.00 L698.64,722.61 L700.07,721.22 L701.49,719.82 L702.91,718.41 L704.31,717.00 L705.71,715.58 L707.11,714.16 L708.50,712.73 L709.88,711.29 L711.25,709.85 L712.62,708.40 L713.98,706.94 L715.33,705.48 L716.68,704.02 L718.02,702.54 L719.36,701.06 L720.69,699.58 L722.01,698.09 L723.32,696.59 L724.63,695.09 L725.93,693.58 L727.22,692.06 L728.50,690.53 L729.78,689.00 L731.04,687.46 L732.30,685.92 L733.55,684.37 L734.79,682.81 L736.02,681.24 L737.24,679.67 L738.46,678.09 L739.67,676.51 L740.87,674.91 L742.06,673.32 L743.24,671.71 L744.41,670.10 L745.57,668.48 L746.73,666.86 L747.88,665.23 L749.02,663.60 L750.14,661.96 L751.27,660.31 L752.38,658.65 L753.48,657.00 L754.57,655.33 L755.66,653.66 L756.73,651.98 L757.80,650.30 L758.86,648.61 L759.91,646.92 L760.95,645.22 L761.98,643.51 L763.00,641.80 L764.01,640.08 L765.02,638.36 L766.01,636.64 L767.00,634.90 L767.97,633.16 L768.94,631.42 L769.89,629.67 L770.84,627.92 L771.78,626.16 L772.71,624.40 L773.63,622.63 L774.54,620.86 L775.44,619.08 L776.33,617.30 L777.21,615.51 L778.08,613.72 L778.94,611.92 L779.79,610.12 L780.64,608.31 L781.47,606.50 L782.29,604.68 L783.10,602.86 L783.91,601.04 L784.70,599.21 L785.49,597.38 L786.26,595.54 L787.04,593.70 L787.80,591.86 L788.56,590.02 L789.31,588.17 L790.05,586.32 L790.79,584.47 L791.52,582.61 L792.24,580.75 L792.95,578.89 L793.66,577.02 L794.36,575.15 L795.05,573.28 L795.74,571.41 L796.42,569.53 L797.09,567.65 L797.75,565.76 L798.40,563.88 L799.05,561.98 L799.69,560.09 L800.32,558.19 L800.95,556.29 L801.56,554.39 L802.17,552.49 L802.77,550.58 L803.36,548.66 L803.95,546.75 L804.52,544.83 L805.09,542.91 L805.65,540.99 L806.20,539.06 L806.75,537.13 L807.28,535.20 L807.81,533.26 L808.33,531.32 L808.83,529.38 L809.33,527.43 L809.83,525.49 L810.31,523.54 L810.78,521.58 L811.25,519.63 L811.71,517.67 L812.15,515.70 L812.59,513.74 L813.02,511.77 L813.44,509.80 L813.85,507.83 L814.25,505.85 L814.65,503.88 L815.03,501.90 L815.40,499.91 L815.77,497.93 L816.12,495.94 L816.46,493.95 L816.80,491.95 L817.13,489.96 L817.44,487.96 L817.75,485.96 L818.04,483.96 L818.33,481.95 L818.60,479.95 L818.87,477.94 L819.12,475.93 L819.37,473.91 L819.61,471.90 L819.83,469.88 L820.04,467.86 L820.25,465.84 L820.44,463.82 L820.62,461.79 L820.80,459.77 Z" fill="#D60D55"/>
<polyline points="53.5,418.7 71.8,442.1 94.1,422.1" fill="none" stroke="#D60D55" stroke-width="5.6" stroke-linejoin="miter" stroke-miterlimit="10" stroke-linecap="butt"/>
<polyline points="805.8,426.5 823.3,442.1 838.1,424.8" fill="none" stroke="#D60D55" stroke-width="5.6" stroke-linejoin="miter" stroke-miterlimit="10" stroke-linecap="butt"/>
<polyline points="57.1,482.4 71.7,464.7 89.5,479.7" fill="none" stroke="#D60D55" stroke-width="5.6" stroke-linejoin="miter" stroke-miterlimit="10" stroke-linecap="butt"/>
<polyline points="801,480.1 823.7,460.2 841.5,484.1" fill="none" stroke="#D60D55" stroke-width="5.6" stroke-linejoin="miter" stroke-miterlimit="10" stroke-linecap="butt"/>

<text fill="#1E1E1E" stroke="#1E1E1E" stroke-width="0.45" style="font-size:20px"><textPath href="#tp0" startOffset="310.43" textLength="58.71" lengthAdjust="spacingAndGlyphs">Rollen</textPath></text>
<text fill="#1E1E1E" stroke="#1E1E1E" stroke-width="0.45" style="font-size:20px"><textPath href="#tp1" startOffset="375.43" textLength="36.71" lengthAdjust="spacingAndGlyphs">und</textPath></text>
<text fill="#1E1E1E" stroke="#1E1E1E" stroke-width="0.45" style="font-size:20px"><textPath href="#tp2" startOffset="416.38" textLength="110.16" lengthAdjust="spacingAndGlyphs">Beziehungs</textPath></text>
<text fill="#1E1E1E" stroke="#1E1E1E" stroke-width="0.45" style="font-size:20px"><textPath href="#tp3" startOffset="526.96" textLength="85.18" lengthAdjust="spacingAndGlyphs">kontexte</textPath></text>

<text fill="#1E1E1E" stroke="#1E1E1E" stroke-width="0.45" style="font-size:20px;letter-spacing:0px"><textPath href="#bp" startOffset="50.45%" text-anchor="middle" textLength="155.5" lengthAdjust="spacingAndGlyphs">Lebensphasen</textPath></text>
</svg>
</body></html>
